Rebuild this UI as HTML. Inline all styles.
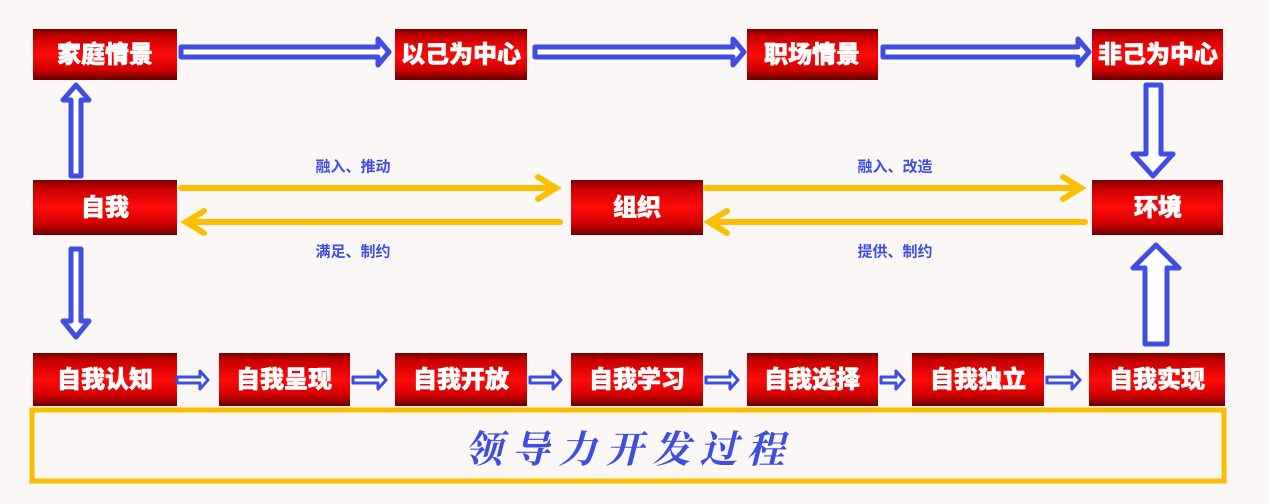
<!DOCTYPE html>
<html><head><meta charset="utf-8"><style>
html,body{margin:0;padding:0;background:#fcf7f7;}
svg{display:block}
.b{font-family:"Liberation Sans","Noto Sans CJK SC",sans-serif;font-weight:900;fill:#fff;font-size:24px;text-anchor:middle;dominant-baseline:central;stroke:#fff;stroke-width:0.6}
.l{font-family:"Liberation Sans","Noto Sans CJK SC",sans-serif;font-weight:bold;fill:#3f4ee0;font-size:15px;text-anchor:middle;dominant-baseline:central}
</style></head><body>
<svg width="1269" height="504" viewBox="0 0 1269 504" xmlns="http://www.w3.org/2000/svg">
<defs>
<linearGradient id="r" x1="0" y1="0" x2="0" y2="1">
<stop offset="0" stop-color="#7a0000"/><stop offset="0.15" stop-color="#c80000"/><stop offset="0.5" stop-color="#ff0a0a"/><stop offset="0.8" stop-color="#d00000"/><stop offset="1" stop-color="#6a0000"/>
</linearGradient>
</defs>
<rect width="1269" height="504" fill="#fcf7f7"/>
<g fill="url(#r)">
<rect x="33" y="29" width="144" height="51"/>
<rect x="395" y="29" width="132" height="51"/>
<rect x="747" y="29" width="131" height="51"/>
<rect x="1092" y="29" width="131" height="51"/>
<rect x="33" y="180" width="144" height="55"/>
<rect x="571" y="180" width="132" height="55"/>
<rect x="1092" y="180" width="131" height="55"/>
<rect x="33" y="353" width="144" height="53"/>
<rect x="219" y="353" width="131" height="53"/>
<rect x="395" y="353" width="132" height="53"/>
<rect x="571" y="353" width="132" height="53"/>
<rect x="747" y="353" width="131" height="53"/>
<rect x="912" y="353" width="132" height="53"/>
<rect x="1089" y="353" width="136" height="53"/>
</g>
<text x="105" y="55" class="b">家庭情景</text>
<text x="461" y="55" class="b">以己为中心</text>
<text x="812" y="55" class="b">职场情景</text>
<text x="1158" y="55" class="b">非己为中心</text>
<text x="105" y="208" class="b">自我</text>
<text x="637" y="208" class="b">组织</text>
<text x="1158" y="208" class="b">环境</text>
<text x="105" y="380" class="b">自我认知</text>
<text x="284" y="380" class="b">自我呈现</text>
<text x="461" y="380" class="b">自我开放</text>
<text x="637" y="380" class="b">自我学习</text>
<text x="812" y="380" class="b">自我选择</text>
<text x="978" y="380" class="b">自我独立</text>
<text x="1157" y="380" class="b">自我实现</text>
<g fill="#fff" stroke="#3f4ee0" stroke-width="5" stroke-linejoin="round">
<path d="M181 47 H378 V39 L389 52 L378 65 V57 H181 Z"/>
<path d="M535 47 H733 V39 L744 52 L733 65 V57 H535 Z"/>
<path d="M883 47 H1078 V39 L1089 52 L1078 65 V57 H883 Z"/>
<path d="M71 176 V100 H63 L76 85 L89 100 H81 V176 Z"/>
<path d="M71 249 V321 H63 L76 337 L89 321 H81 V249 Z"/>
<path d="M1146 85 V154 H1133 L1153 176 L1173 154 H1161 V85 Z"/>
<path d="M1145 344 V268 H1133 L1156 245 L1179 268 H1167 V344 Z"/>
</g>
<g fill="#fff" stroke="#3f4ee0" stroke-width="3" stroke-linejoin="round">
<path d="M177 377 H200 V371 L208 380 L200 389 V383 H177 Z"/>
<path d="M353 377 H378 V371 L386 380 L378 389 V383 H353 Z"/>
<path d="M530 377 H553 V371 L561 380 L553 389 V383 H530 Z"/>
<path d="M706 377 H730 V371 L738 380 L730 389 V383 H706 Z"/>
<path d="M881 377 H896 V371 L904 380 L896 389 V383 H881 Z"/>
<path d="M1047 377 H1072 V371 L1080 380 L1072 389 V383 H1047 Z"/>
</g>
<g fill="none" stroke="#fdbd00" stroke-width="6" stroke-linecap="round">
<path d="M181 188 H555 M538 177 L556 188 L538 199"/>
<path d="M560 222 H186 M204 211 L186 222 L204 233"/>
<path d="M706 188 H1080 M1063 177 L1081 188 L1063 199"/>
<path d="M1085 222 H709 M727 211 L709 222 L727 233"/>
</g>
<text x="353" y="167" class="l">融入、推动</text>
<text x="353" y="252" class="l">满足、制约</text>
<text x="895" y="167" class="l">融入、改造</text>
<text x="895" y="252" class="l">提供、制约</text>
<rect x="32" y="410" width="1192" height="71" fill="none" stroke="#fdbd00" stroke-width="5"/>
<text x="629" y="446" text-anchor="middle" dominant-baseline="central" fill="#3f4ee0" font-family="'Noto Serif CJK SC','Liberation Serif',serif" font-weight="bold" font-size="38" letter-spacing="9" font-style="italic">领导力开发过程</text>
</svg>
</body></html>
